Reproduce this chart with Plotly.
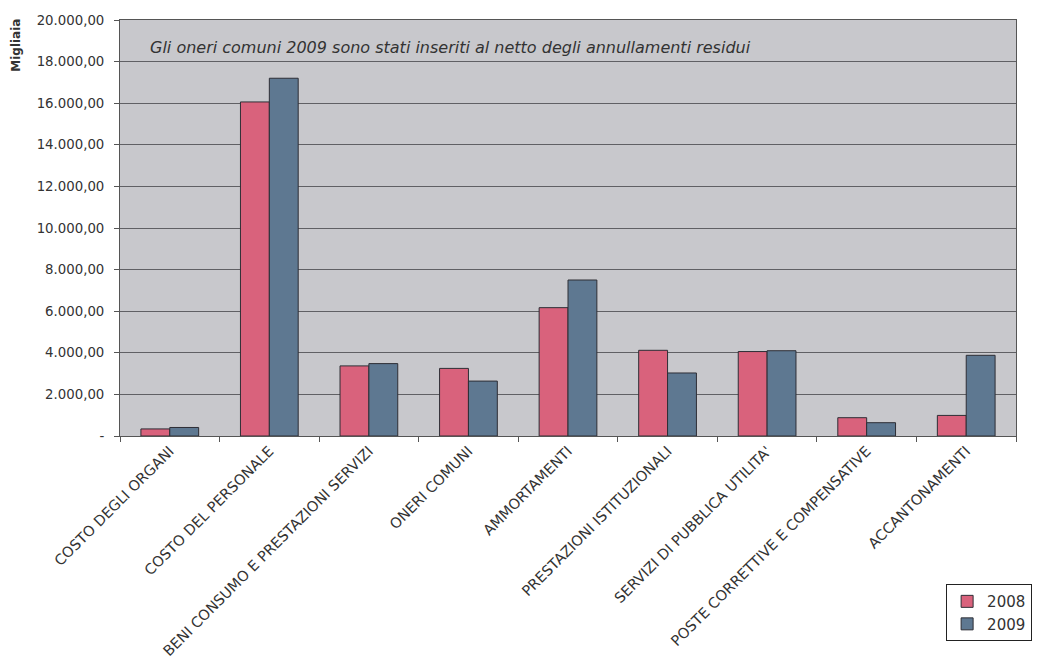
import plotly.graph_objects as go

categories = [
    "COSTO DEGLI ORGANI",
    "COSTO DEL PERSONALE",
    "BENI CONSUMO E PRESTAZIONI SERVIZI",
    "ONERI COMUNI",
    "AMMORTAMENTI",
    "PRESTAZIONI ISTITUZIONALI",
    "SERVIZI DI PUBBLICA UTILITA'",
    "POSTE CORRETTIVE E COMPENSATIVE",
    "ACCANTONAMENTI",
]
values_2008 = [340, 16060, 3370, 3250, 6170, 4120, 4060, 880, 990]
values_2009 = [410, 17200, 3480, 2640, 7500, 3030, 4100, 640, 3880]
series_names = ["2008", "2009"]
y_tickvals = [0, 2000, 4000, 6000, 8000, 10000, 12000, 14000, 16000, 18000, 20000]
y_ticktext = ["-", "2.000,00", "4.000,00", "6.000,00", "8.000,00", "10.000,00",
              "12.000,00", "14.000,00", "16.000,00", "18.000,00", "20.000,00"]

font_family = "DejaVu Sans, Verdana, sans-serif"

fig = go.Figure()
fig.add_trace(go.Bar(
    x=categories, y=values_2008, name=series_names[0],
    marker=dict(color="#D9627C", line=dict(color="#2E2E35", width=1)),
))
fig.add_trace(go.Bar(
    x=categories, y=values_2009, name=series_names[1],
    marker=dict(color="#5E7891", line=dict(color="#2E2E35", width=1)),
))

fig.update_layout(
    width=1050, height=660,
    margin=dict(l=112, r=42, t=12, b=232),
    paper_bgcolor="white",
    plot_bgcolor="#C8C8CC",
    barmode="group",
    bargap=0.42,
    bargroupgap=0,
    font=dict(family=font_family, color="#333333"),
    showlegend=True,
    legend=dict(
        x=0.922, y=-0.356, xanchor="left", yanchor="top",
        bgcolor="white", bordercolor="#222222", borderwidth=1,
        font=dict(size=15, family=font_family, color="#333333"),
        itemwidth=30, tracegroupgap=4,
    ),
    annotations=[
        dict(
            text="<i>Gli oneri comuni 2009 sono stati inseriti al netto degli annullamenti residui</i>",
            xref="paper", yref="paper", x=0.031, y=0.935,
            xanchor="left", yanchor="middle", showarrow=False,
            font=dict(size=16, family=font_family, color="#333333"),
        ),
        dict(
            text="<b>Migliaia</b>",
            xref="paper", yref="paper", x=-0.117, y=1.007,
            xanchor="center", yanchor="top", showarrow=False,
            textangle=-90,
            font=dict(size=12, family=font_family, color="#333333"),
        ),
    ],
)

fig.update_xaxes(
    type="category",
    automargin=False,
    tickangle=-45,
    tickson="boundaries",
    ticks="outside", ticklen=5, tickcolor="#555555",
    showline=True, linecolor="#555555", linewidth=1, mirror=True,
    showgrid=False,
    tickfont=dict(size=14.5, family=font_family, color="#333333"),
)
fig.update_yaxes(
    automargin=False,
    range=[0, 20000],
    tickvals=y_tickvals, ticktext=y_ticktext,
    ticks="outside", ticklen=5, tickcolor="#555555",
    ticklabelstandoff=7,
    showline=True, linecolor="#555555", linewidth=1, mirror=True,
    showgrid=True, gridcolor="#606064", gridwidth=1,
    zeroline=False,
    tickfont=dict(size=13.3, family=font_family, color="#333333"),
)

fig.write_html("out.html")
